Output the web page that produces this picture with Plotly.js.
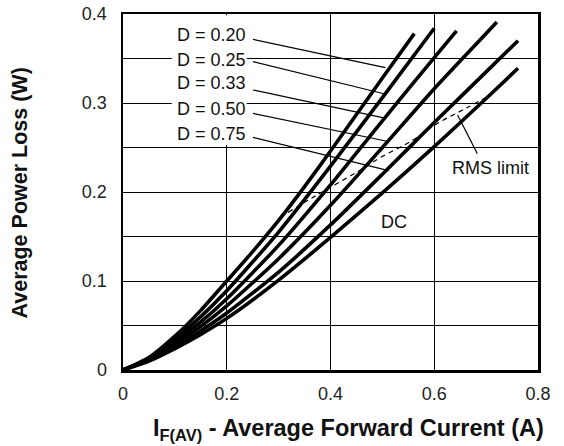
<!DOCTYPE html>
<html>
<head>
<meta charset="utf-8">
<script src="https://cdn.plot.ly/plotly-3.0.1.min.js"></script>
<style>
html,body{margin:0;padding:0;background:#fff;}
#chart{width:564px;height:446px;}
</style>
</head>
<body>
<div id="chart"></div>
<script>
// ---- data ----
const xD020 = [0, 0.05, 0.10, 0.15, 0.20, 0.25, 0.30, 0.35, 0.40, 0.45, 0.50, 0.5615];
const yD020 = [0, 0.014, 0.038, 0.067, 0.100, 0.133, 0.168, 0.206, 0.246, 0.287, 0.328, 0.378];

const xD025 = [0, 0.05, 0.10, 0.15, 0.20, 0.30, 0.40, 0.50, 0.600];
const yD025 = [0, 0.013, 0.035, 0.060, 0.089, 0.155, 0.229, 0.306, 0.384];

const xD033 = [0, 0.05, 0.10, 0.15, 0.20, 0.30, 0.40, 0.50, 0.60, 0.643];
const yD033 = [0, 0.012, 0.032, 0.054, 0.080, 0.140, 0.208, 0.280, 0.351, 0.381];

const xD050 = [0, 0.05, 0.10, 0.15, 0.20, 0.30, 0.40, 0.50, 0.60, 0.70, 0.7206];
const yD050 = [0, 0.011, 0.029, 0.049, 0.072, 0.125, 0.185, 0.250, 0.316, 0.378, 0.391];

const xD075 = [0, 0.05, 0.10, 0.15, 0.20, 0.30, 0.40, 0.50, 0.60, 0.70, 0.7615];
const yD075 = [0, 0.011, 0.026, 0.044, 0.064, 0.110, 0.163, 0.220, 0.278, 0.335, 0.370];

const xDC = [0, 0.05, 0.10, 0.15, 0.20, 0.30, 0.40, 0.50, 0.60, 0.70, 0.7615];
const yDC = [0, 0.010, 0.024, 0.040, 0.058, 0.101, 0.149, 0.199, 0.251, 0.305, 0.339];

const xRMS = [0.318, 0.372, 0.45, 0.494, 0.558, 0.606, 0.661, 0.709];
const yRMS = [0.177, 0.196, 0.222, 0.238, 0.258, 0.277, 0.294, 0.309];

const dutyLabels = ["D = 0.20", "D = 0.25", "D = 0.33", "D = 0.50", "D = 0.75"];
const labelX = [0.1706, 0.1706, 0.1706, 0.1706, 0.1706];
const labelY = [0.3764, 0.3483, 0.3221, 0.2929, 0.2648];
const leaderX0 = [0.2506, 0.2506, 0.2506, 0.2506, 0.2506];
const leaderY0 = [0.3715, 0.3464, 0.3146, 0.2884, 0.2614];
const leaderX1 = [0.5058, 0.507, 0.507, 0.5135, 0.512];
const leaderY1 = [0.3397, 0.3098, 0.2828, 0.2565, 0.2240];

const xTicks = [0, 0.2, 0.4, 0.6, 0.8];
const xTickText = ["0", "0.2", "0.4", "0.6", "0.8"];
const yTicks = [0, 0.1, 0.2, 0.3, 0.4];
const yTickText = ["0", "0.1", "0.2", "0.3", "0.4"];

// ---- build chart ----
const FONT = '"Liberation Sans", Arial, Helvetica, sans-serif';
const curve = (x, y, name) => ({x, y, name, type: "scatter", mode: "lines",
  line: {color: "#000", width: 3.6, shape: "spline", smoothing: 0.6}, hoverinfo: "skip"});

const traces = [
  curve(xD020, yD020, "D = 0.20"),
  curve(xD025, yD025, "D = 0.25"),
  curve(xD033, yD033, "D = 0.33"),
  curve(xD050, yD050, "D = 0.50"),
  curve(xD075, yD075, "D = 0.75"),
  curve(xDC, yDC, "DC"),
  {x: xRMS, y: yRMS, name: "RMS limit", type: "scatter", mode: "lines",
   line: {color: "#000", width: 1.2, dash: "5px,4px", shape: "spline"}, hoverinfo: "skip"}
];

const shapes = [
  {type: "rect", xref: "x", yref: "y", x0: 0.094, x1: 0.2385, y0: 0.2525, y1: 0.3985,
   fillcolor: "#fff", line: {width: 0}, layer: "between"}
];
for (let i = 0; i < dutyLabels.length; i++) {
  shapes.push({type: "line", xref: "x", yref: "y", x0: leaderX0[i], y0: leaderY0[i],
    x1: leaderX1[i], y1: leaderY1[i], line: {color: "#000", width: 1.2}});
}
shapes.push({type: "line", xref: "x", yref: "y", x0: 0.683, y0: 0.243, x1: 0.645, y1: 0.2865,
  line: {color: "#000", width: 1.2}});

const annotations = [];
for (let i = 0; i < dutyLabels.length; i++) {
  annotations.push({x: labelX[i], y: labelY[i], xref: "x", yref: "y", text: dutyLabels[i],
    showarrow: false, font: {family: FONT, size: 18, color: "#111"}});
}
annotations.push({x: 0.7077, y: 0.227, xref: "x", yref: "y", text: "RMS limit",
  showarrow: false, font: {family: FONT, size: 18, color: "#111"}});
annotations.push({x: 0.523, y: 0.166, xref: "x", yref: "y", text: "DC",
  showarrow: false, font: {family: FONT, size: 18, color: "#111"}});
annotations.push({x: 0.5434, y: -0.1685, xref: "paper", yref: "paper",
  text: "<b>I<sub>F(AV)</sub> - Average Forward Current (A)</b>",
  showarrow: false, xanchor: "center", yanchor: "middle",
  font: {family: FONT, size: 23.5, color: "#111"}});
annotations.push({x: -0.2458, y: 0.4986, xref: "paper", yref: "paper",
  text: "<b>Average Power Loss (W)</b>", textangle: -90,
  showarrow: false, xanchor: "center", yanchor: "middle",
  font: {family: FONT, size: 21.5, color: "#111"}});

const layout = {
  width: 564, height: 446,
  margin: {l: 123, r: 26, t: 14, b: 76, pad: 0},
  paper_bgcolor: "#fff", plot_bgcolor: "#fff",
  showlegend: false,
  font: {family: FONT, size: 18, color: "#222"},
  xaxis: {range: [0, 0.8], tickvals: xTicks, ticktext: xTickText, ticks: "",
    showgrid: true, gridcolor: "#000", gridwidth: 1, zeroline: false,
    showline: true, linecolor: "#000", linewidth: 2.5, mirror: true,
    ticklabelstandoff: 6, tickfont: {family: FONT, size: 18, color: "#222"}},
  yaxis: {range: [0, 0.4], tickvals: yTicks, ticktext: yTickText, ticks: "",
    showgrid: true, gridcolor: "#000", gridwidth: 1, zeroline: false,
    minor: {dtick: 0.05, showgrid: true, gridcolor: "#000", gridwidth: 1},
    showline: true, linecolor: "#000", linewidth: 2.5, mirror: true,
    ticklabelstandoff: 10, tickfont: {family: FONT, size: 18, color: "#222"}},
  shapes, annotations
};

Plotly.newPlot("chart", traces, layout, {staticPlot: true, displayModeBar: false});
</script>
</body>
</html>
